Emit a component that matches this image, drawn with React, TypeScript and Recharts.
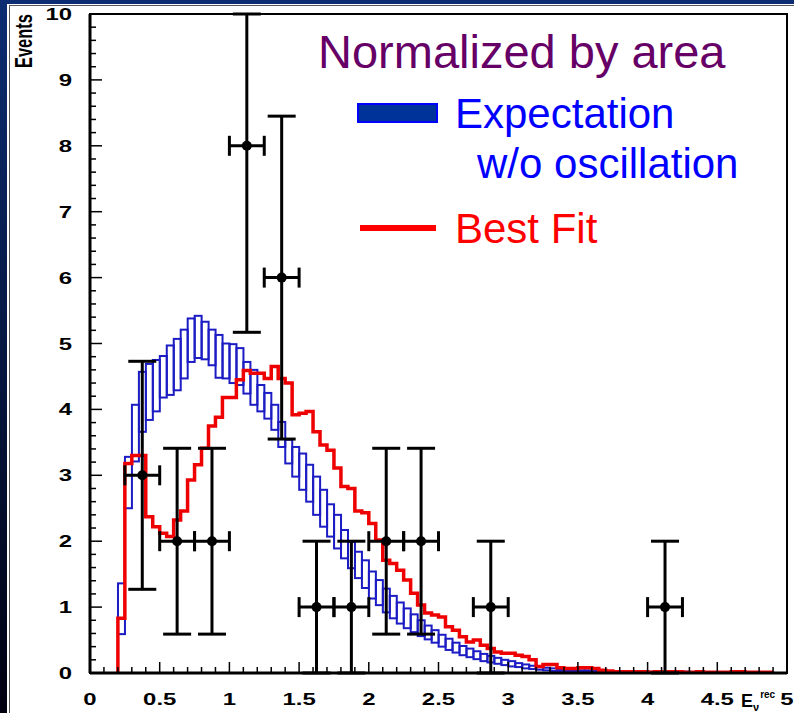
import React from "react";
import {
  Bar,
  ComposedChart,
  ErrorBar,
  Line,
  ReferenceArea,
  Scatter,
  XAxis,
  YAxis,
} from "recharts";

// histogram binning (GeV)
const BIN_START = 0.2;
const BIN_WIDTH = 0.05;
const X_MAX = 5;
const Y_MAX = 10;

// best fit (red histogram), one value per 0.05 bin from 0.20
const BEST_FIT = [
  0.83, 3.18, 3.3, 3.3, 2.37, 2.22, 2.12, 2.07, 2.32, 2.46,
  2.93, 3.16, 3.41, 3.75, 3.88, 4.18, 4.18, 4.45, 4.59, 4.55,
  4.55, 4.47, 4.65, 4.47, 4.4, 3.92, 3.94, 3.97, 3.66, 3.46,
  3.38, 3.11, 2.83, 2.8, 2.46, 2.43, 2.27, 2.02, 1.71, 1.66,
  1.56, 1.41, 1.21, 1.03, 0.91, 0.88, 0.85, 0.7, 0.65, 0.55,
  0.47, 0.5, 0.42, 0.37, 0.32, 0.3, 0.3, 0.27, 0.25, 0.2,
  0.1, 0.13, 0.13, 0.08, 0.07, 0.07, 0.08, 0.08, 0.07, 0.04,
  0.03, 0.02, 0.02, 0.02, 0.02, 0.02, 0.01, 0.02, 0.01, 0.02,
  0.02, 0.01, 0.01, 0.02, 0.01, 0.01, 0.01, 0.01, 0.02, 0.02,
  0.01, 0.01, 0.01, 0.01,
];

// expectation w/o oscillation, error band upper / lower edge
const EXPECT_HIGH = [
  1.36, 3.28, 4.07, 4.57, 4.69, 4.75, 4.81, 4.97, 5.07, 5.21,
  5.38, 5.42, 5.33, 5.21, 5.13, 5.0, 4.99, 4.93, 4.72, 4.6,
  4.37, 4.25, 4.07, 3.81, 3.54, 3.43, 3.33, 3.16, 2.98, 2.78,
  2.56, 2.4, 2.17, 1.99, 1.84, 1.71, 1.54, 1.41, 1.28, 1.17,
  1.07, 0.98, 0.89, 0.8, 0.72, 0.65, 0.58, 0.52, 0.46, 0.41,
  0.37, 0.33, 0.29, 0.26, 0.23, 0.2, 0.18, 0.15, 0.13, 0.11,
  0.09, 0.08, 0.07, 0.06, 0.05, 0.05, 0.04, 0.04, 0.03, 0.03,
  0.03, 0.03, 0.02, 0.02, 0.02, 0.02, 0.02, 0.02, 0.02, 0.02,
  0.02, 0.02, 0.01, 0.02, 0.01, 0.01, 0.01, 0.01, 0.01, 0.01,
  0.01, 0.01, 0.01, 0.01,
];
const EXPECT_LOW = [
  0.59, 2.5, 3.21, 3.66, 3.84, 3.97, 4.18, 4.22, 4.29, 4.47,
  4.72, 4.78, 4.76, 4.67, 4.48, 4.47, 4.4, 4.37, 4.24, 4.07,
  3.97, 3.86, 3.69, 3.43, 3.18, 2.98, 2.78, 2.6, 2.4, 2.22,
  2.07, 1.89, 1.74, 1.59, 1.44, 1.29, 1.13, 1.03, 0.92, 0.83,
  0.75, 0.68, 0.62, 0.56, 0.51, 0.46, 0.4, 0.35, 0.31, 0.27,
  0.24, 0.21, 0.18, 0.16, 0.14, 0.12, 0.1, 0.09, 0.07, 0.06,
  0.05, 0.04, 0.03, 0.03, 0.02, 0.02, 0.02, 0.02, 0.01, 0.01,
  0.01, 0.01, 0.01, 0.01, 0.01, 0.01, 0.01, 0.01, 0.01, 0.01,
  0.01, 0.01, 0.0, 0.01, 0.0, 0.0, 0.0, 0.0, 0.0, 0.0,
  0.0, 0.0, 0.0, 0.0,
];

// observed events, 0.25 GeV bins
const DATA_E = [0.375, 0.625, 0.875, 1.125, 1.375, 1.625, 1.875, 2.125, 2.375, 2.875, 4.125];
const DATA_N = [3, 2, 2, 8, 6, 1, 1, 2, 2, 1, 1];
const DATA_ERR = [1.73, 1.41, 1.41, 2.83, 2.45, 1, 1, 1.41, 1.41, 1, 1];
const DATA_HALF_BIN = 0.125;

const X_LABELS = ["0", "0.5", "1", "1.5", "2", "2.5", "3", "3.5", "4", "4.5", "5"];
const Y_LABELS = ["0", "1", "2", "3", "4", "5", "6", "7", "8", "9", "10"];

const FONT = "'Liberation Sans', Arial, Helvetica, sans-serif";

const W = 794;
const H = 713;
const MARGIN = { top: 14, right: 7, bottom: 0, left: 0 };
const Y_AXIS_W = 90;
const X_AXIS_H = 40;
const BIN_PX = ((W - Y_AXIS_W - MARGIN.right) / X_MAX) * BIN_WIDTH;

const edge = (i: number) => Math.round((BIN_START + i * BIN_WIDTH) * 1000) / 1000;

const bandData = EXPECT_HIGH.map((hi, i) => ({
  x: edge(i) + BIN_WIDTH / 2,
  band: [EXPECT_LOW[i], hi],
}));

const fitData = [
  { x: BIN_START, y: 0 },
  ...BEST_FIT.map((v, i) => ({ x: edge(i), y: v })),
  { x: edge(BEST_FIT.length), y: BEST_FIT[BEST_FIT.length - 1] },
];

// error bars are cut at the top of the frame, like the original
const points = DATA_E.map((e, i) => ({
  x: e,
  y: DATA_N[i],
  err: [DATA_ERR[i], Math.min(DATA_ERR[i], Y_MAX - DATA_N[i])],
  ew: DATA_HALF_BIN,
}));

const X_TICKS = Array.from({ length: 51 }, (_, i) => i / 10);
const Y_TICKS = Array.from({ length: 51 }, (_, i) => i / 5);

const findLabel = (labels: string[], v: number) =>
  labels.find((l) => Math.abs(Number(l) - v) < 1e-6);

const XTick = (props: any) => {
  const { x, y, payload } = props;
  const label = findLabel(X_LABELS, payload.value);
  return (
    <g>
      <line x1={x} x2={x} y1={y} y2={y - (label ? 11 : 6)} stroke="#000" strokeWidth={1.5} />
      {label && (
        <text
          transform={`translate(${x},${y + 32}) scale(1.45,1)`}
          textAnchor="middle"
          fontFamily={FONT}
          fontWeight="bold"
          fontSize={16.5}
          fill="#000"
        >
          {label}
        </text>
      )}
    </g>
  );
};

const YTick = (props: any) => {
  const { x, y, payload } = props;
  const label = findLabel(Y_LABELS, payload.value);
  return (
    <g>
      <line x1={x} x2={x + (label ? 12 : 6)} y1={y} y2={y} stroke="#000" strokeWidth={1.5} />
      {label && (
        <text
          transform={`translate(${x - 18},${y + 6}) scale(1.45,1)`}
          textAnchor="end"
          fontFamily={FONT}
          fontWeight="bold"
          fontSize={16.5}
          fill="#000"
        >
          {label}
        </text>
      )}
    </g>
  );
};

// one open box per bin, full bin width
const BandBox = (props: any) => {
  const cx = props.x + props.width / 2;
  const top = Math.min(props.y, props.y + props.height);
  const h = Math.abs(props.height);
  return (
    <rect
      x={cx - BIN_PX / 2}
      y={top}
      width={BIN_PX}
      height={h}
      fill="none"
      stroke="#1c1cc4"
      strokeWidth={2}
    />
  );
};

const DataDot = (props: any) => <circle cx={props.cx} cy={props.cy} r={5} fill="#000" />;

export default function App() {
  return (
    <div
      style={{
        position: "absolute",
        left: 0,
        top: 0,
        width: W,
        height: H,
        overflow: "hidden",
        background: "linear-gradient(to bottom, #0c2d72, #000010)",
      }}
    >
      <div style={{ position: "absolute", left: 7, top: 4, right: 0, bottom: 0, background: "#fff" }}>
        <div
          style={{
            position: "absolute",
            left: 2,
            top: 1,
            right: 0,
            bottom: 0,
            borderLeft: "1px solid #555",
            borderTop: "1px solid #555",
          }}
        />
      </div>
      <div style={{ position: "absolute", left: 0, top: 0 }}>
        <ComposedChart width={W} height={H} data={bandData} margin={MARGIN}>
          <XAxis
            dataKey="x"
            type="number"
            domain={[0, X_MAX]}
            ticks={X_TICKS}
            interval={0}
            height={X_AXIS_H}
            tickSize={0}
            tickMargin={0}
            tick={<XTick />}
            axisLine={{ stroke: "#000", strokeWidth: 3 }}
            allowDataOverflow
          />
          <YAxis
            type="number"
            domain={[0, Y_MAX]}
            ticks={Y_TICKS}
            interval={0}
            width={Y_AXIS_W}
            tickSize={0}
            tickMargin={0}
            tick={<YTick />}
            axisLine={{ stroke: "#000", strokeWidth: 3 }}
            allowDataOverflow
          />
          <ReferenceArea x1={0} x2={X_MAX} y1={0} y2={Y_MAX} fill="none" stroke="#000" strokeWidth={2} />
          <Bar dataKey="band" shape={<BandBox />} isAnimationActive={false} />
          <Line
            data={fitData}
            dataKey="y"
            type="stepAfter"
            stroke="#ee0000"
            strokeWidth={3.5}
            dot={false}
            activeDot={false}
            isAnimationActive={false}
          />
          <Scatter data={points} dataKey="y" shape={<DataDot />} isAnimationActive={false}>
            <ErrorBar dataKey="err" direction="y" width={14} stroke="#000" strokeWidth={3} />
            <ErrorBar dataKey="ew" direction="x" width={10} stroke="#000" strokeWidth={3} />
          </Scatter>
        </ComposedChart>
      </div>
      <svg
        width={W}
        height={H}
        style={{ position: "absolute", left: 0, top: 0, pointerEvents: "none" }}
      >
        <text
          transform="translate(32,14) scale(1.45,1) rotate(-90)"
          textAnchor="end"
          fontFamily={FONT}
          fontWeight="bold"
          fontSize={16.5}
          fill="#000"
        >
          Events
        </text>
        <text x={741} y={707} fontFamily={FONT} fontWeight="bold" fontSize={18} fill="#000">
          E
          <tspan fontSize={11} dy={4}>ν</tspan>
          <tspan fontSize={10} dx={1} dy={-13}>rec</tspan>
        </text>
        <text x={318} y={68} fontFamily={FONT} fontSize={47} fill="#660066">
          Normalized by area
        </text>
        <rect x={358} y={104} width={79} height={18} fill="#003399" stroke="#0000ff" strokeWidth={2} />
        <text x={455} y={128} fontFamily={FONT} fontSize={42} fill="#0000ff">
          Expectation
        </text>
        <text x={477} y={178} fontFamily={FONT} fontSize={42} fill="#0000ff">
          w/o oscillation
        </text>
        <line x1={360} x2={436} y1={228} y2={228} stroke="#ff0000" strokeWidth={6} />
        <text x={455} y={243} fontFamily={FONT} fontSize={42} fill="#ff0000">
          Best Fit
        </text>
      </svg>
    </div>
  );
}
